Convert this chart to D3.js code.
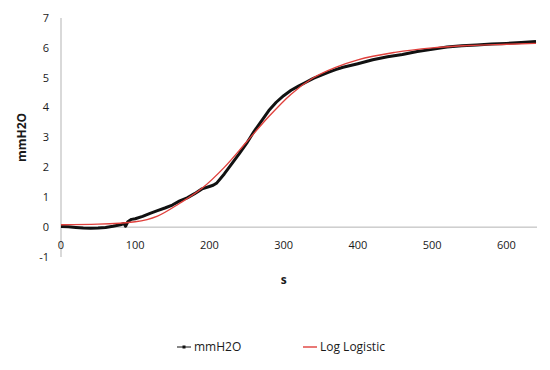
<!DOCTYPE html>
<html>
<head>
<meta charset="utf-8">
<script src="https://cdn.jsdelivr.net/npm/d3@7"></script>
<style>
  body { margin: 0; background: #fff; }
  text { font-family: "Open Sans", "DejaVu Sans", sans-serif; fill: #1a1a1a; }
</style>
</head>
<body>
<div id="chart"></div>
<script>
// measured pressure (s, mmH2O)
const measuredS = [0, 10, 20, 30, 40, 50, 60, 70, 80, 85, 87, 90, 95, 100, 110, 120, 130, 140, 150, 160,
  170, 180, 190, 200, 205, 210, 220, 230, 240, 250, 260, 270, 280, 290, 300, 310, 320, 330, 340, 350, 360,
  370, 380, 400, 420, 440, 460, 480, 500, 520, 540, 560, 580, 600, 620, 640];
const measuredV = [0.02, 0.01, -0.01, -0.03, -0.04, -0.03, -0.01, 0.03, 0.08, 0.12, 0.03, 0.18, 0.26, 0.28, 0.36, 0.46, 0.55, 0.64, 0.74, 0.88,
  0.98, 1.12, 1.28, 1.36, 1.4, 1.48, 1.78, 2.12, 2.45, 2.8, 3.2, 3.55, 3.9, 4.18, 4.4, 4.58, 4.72, 4.85, 4.98, 5.08, 5.18,
  5.27, 5.35, 5.47, 5.6, 5.7, 5.78, 5.88, 5.95, 6.03, 6.07, 6.1, 6.13, 6.15, 6.18, 6.21];

// log logistic fit
const fitS = [0, 50, 100, 130, 160, 190, 220, 250, 280, 310, 340, 370, 400, 450, 500, 550, 600, 640];
const fitV = [0.08, 0.1, 0.18, 0.37, 0.8, 1.3, 2.0, 2.85, 3.7, 4.45, 5.0, 5.35, 5.6, 5.85, 6.0, 6.08, 6.12, 6.15];

const xTicks = [0, 100, 200, 300, 400, 500, 600];
const yTicks = [-1, 0, 1, 2, 3, 4, 5, 6, 7];

const W = 550, H = 370;
const x = d3.scaleLinear().domain([0, 640]).range([61, 536]);
const y = d3.scaleLinear().domain([-1, 7]).range([257, 18]);

const svg = d3.select('#chart').append('svg')
  .attr('width', W).attr('height', H);

// axes lines
svg.append('line')
  .attr('x1', x(0)).attr('x2', x(0))
  .attr('y1', y(7)).attr('y2', y(-1))
  .attr('stroke', '#b3b3b3').attr('stroke-width', 1);
svg.append('line')
  .attr('x1', x(0)).attr('x2', x(640) + 1)
  .attr('y1', y(0)).attr('y2', y(0))
  .attr('stroke', '#b3b3b3').attr('stroke-width', 1);

// tick labels
svg.selectAll('.ylab').data(yTicks).enter().append('text')
  .attr('class', 'ylab')
  .attr('x', 49).attr('y', d => y(d))
  .attr('dy', '0.35em')
  .attr('text-anchor', 'end')
  .style('font-size', '11px')
  .text(d => d);

svg.selectAll('.xlab').data(xTicks).enter().append('text')
  .attr('class', 'xlab')
  .attr('x', d => x(d)).attr('y', 245)
  .attr('dy', '0.35em')
  .attr('text-anchor', 'middle')
  .style('font-size', '11px')
  .text(d => d);

// axis titles
svg.append('text')
  .attr('transform', 'translate(22,' + y(3) + ') rotate(-90)')
  .attr('text-anchor', 'middle')
  .attr('dy', '0.35em')
  .style('font-size', '12px').style('font-weight', 'bold')
  .text('mmH2O');
svg.append('text')
  .attr('x', x(300)).attr('y', 280)
  .attr('dy', '0.35em')
  .attr('text-anchor', 'middle')
  .style('font-size', '12px').style('font-weight', 'bold')
  .text('s');

// series
const line = d3.line().x(d => x(d[0])).y(d => y(d[1]));
const measured = measuredS.map((s, i) => [s, measuredV[i]]);
const fit = fitS.map((s, i) => [s, fitV[i]]);

svg.append('path')
  .datum(measured)
  .attr('d', line)
  .attr('fill', 'none')
  .attr('stroke', '#111')
  .attr('stroke-width', 3)
  .attr('stroke-linejoin', 'round');

svg.append('path')
  .datum(fit)
  .attr('d', line.curve(d3.curveMonotoneX))
  .attr('fill', 'none')
  .attr('stroke', '#e0403c')
  .attr('stroke-width', 1.4);

// legend
const ly = 347;
svg.append('line')
  .attr('x1', 177).attr('x2', 191).attr('y1', ly).attr('y2', ly)
  .attr('stroke', '#111').attr('stroke-width', 1);
svg.append('rect')
  .attr('x', 182.5).attr('y', ly - 1.5).attr('width', 3).attr('height', 3)
  .attr('fill', '#111');
svg.append('text')
  .attr('x', 194).attr('y', ly).attr('dy', '0.35em')
  .style('font-size', '12px')
  .text('mmH2O');

svg.append('line')
  .attr('x1', 303).attr('x2', 317).attr('y1', ly).attr('y2', ly)
  .attr('stroke', '#e0403c').attr('stroke-width', 1.4);
svg.append('text')
  .attr('x', 320).attr('y', ly).attr('dy', '0.35em')
  .style('font-size', '12px')
  .text('Log Logistic');
</script>
</body>
</html>
